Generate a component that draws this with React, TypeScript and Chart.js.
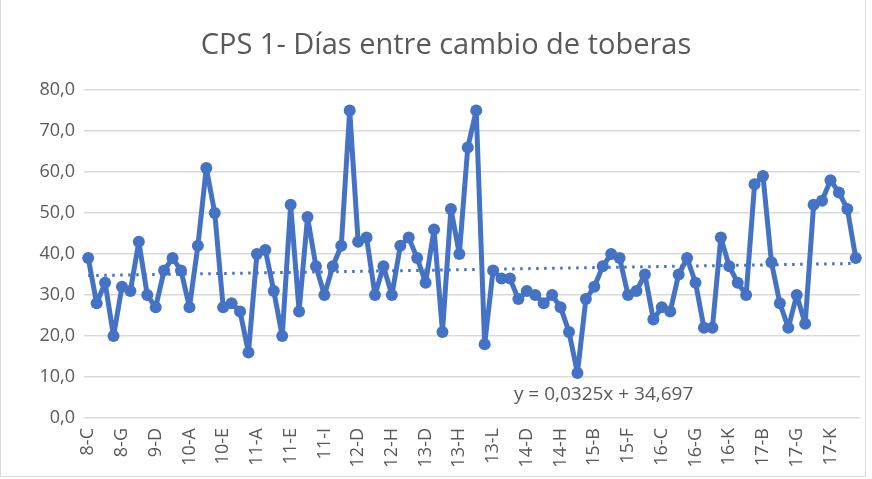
import React, { useEffect, useRef } from "react";
import { Chart, registerables } from "chart.js";

Chart.register(...registerables);

const chartTitle = "CPS 1- Días entre cambio de toberas";

const categories = [
  "8-C", "8-D", "8-E", "8-F", "8-G",
  "9-A", "9-B", "9-C", "9-D", "9-E", "9-F", "9-G",
  "10-A", "10-B", "10-C", "10-D", "10-E", "10-F", "10-G", "10-H",
  "11-A", "11-B", "11-C", "11-D", "11-E", "11-F", "11-G", "11-H", "11-I",
  "12-A", "12-B", "12-C", "12-D", "12-E", "12-F", "12-G", "12-H",
  "13-A", "13-B", "13-C", "13-D", "13-E", "13-F", "13-G", "13-H", "13-I", "13-J", "13-K", "13-L",
  "14-A", "14-B", "14-C", "14-D", "14-E", "14-F", "14-G", "14-H", "14-I", "14-J",
  "15-A", "15-B", "15-C", "15-D", "15-E", "15-F", "15-G",
  "16-A", "16-B", "16-C", "16-D", "16-E", "16-F", "16-G", "16-H", "16-I", "16-J", "16-K", "16-L", "16-M",
  "17-A", "17-B", "17-C", "17-D", "17-E", "17-G", "17-H", "17-I", "17-J", "17-K", "17-L", "17-M", "17-N",
];

const diasEntreCambio = [
  39, 28, 33, 20, 32, 31, 43, 30, 27, 36, 39, 36,
  27, 42, 61, 50, 27, 28, 26, 16,
  40, 41, 31, 20, 52, 26, 49, 37, 30,
  37, 42, 75, 43, 44, 30, 37, 30,
  42, 44, 39, 33, 46, 21, 51, 40, 66, 75, 18, 36,
  34, 34, 29, 31, 30, 28, 30, 27, 21, 11,
  29, 32, 37, 40, 39, 30, 31,
  35, 24, 27, 26, 35, 39, 33, 22, 22, 44, 37, 33, 30,
  57, 59, 38, 28, 22, 30, 23, 52, 53, 58, 55, 51, 39,
];

// Linear trendline endpoints (y = 0,0325x + 34,697 at first and last category)
const trendEnds = [34.73, 37.69];
const trendLabel = "y = 0,0325x + 34,697";

const yMin = 0;
const yMax = 80;
const yStep = 10;

const BLUE = "#4472C4";
const TEXT = "#595959";
const GRID = "#d9d9d9";
const FONT = "'Open Sans', 'Noto Sans', sans-serif";

export default function App() {
  const ref = useRef<HTMLCanvasElement | null>(null);

  useEffect(() => {
    if (!ref.current) return;
    const last = categories.length - 1;
    const trendData = categories.map((_, i) =>
      i === 0 ? trendEnds[0] : i === last ? trendEnds[1] : null
    );

    const overlay = {
      id: "overlay",
      afterDatasetsDraw(chart: any) {
        const { ctx, scales } = chart;
        ctx.save();
        ctx.fillStyle = TEXT;
        ctx.textAlign = "center";
        ctx.textBaseline = "middle";
        ctx.font = `29px ${FONT}`;
        ctx.fillText(chartTitle, 446, 46);
        ctx.font = `19px ${FONT}`;
        const x = scales.x.getPixelForValue(61.1);
        const y = scales.y.getPixelForValue(5.8);
        ctx.fillText(trendLabel, x, y);
        ctx.restore();
      },
    };

    const chart = new Chart(ref.current, {
      type: "line",
      data: {
        labels: categories,
        datasets: [
          {
            label: "Tendencia",
            data: trendData,
            spanGaps: true,
            borderColor: BLUE,
            borderWidth: 3,
            borderDash: [2.5, 5.5],
            pointRadius: 0,
            fill: false,
            order: 2,
          },
          {
            label: "Días",
            data: diasEntreCambio,
            borderColor: BLUE,
            borderWidth: 5,
            borderJoinStyle: "round",
            borderCapStyle: "round",
            backgroundColor: BLUE,
            pointBackgroundColor: BLUE,
            pointBorderWidth: 0,
            pointRadius: 6,
            tension: 0,
            fill: false,
            order: 1,
          },
        ],
      },
      options: {
        animation: false,
        responsive: false,
        maintainAspectRatio: false,
        layout: { padding: { top: 90, left: 0, right: 12, bottom: 0 } },
        plugins: {
          legend: { display: false },
          title: { display: false },
          tooltip: { enabled: false },
        },
        scales: {
          x: {
            offset: true,
            grid: { display: false, drawTicks: false },
            border: { display: false },
            ticks: {
              autoSkip: false,
              maxRotation: 90,
              minRotation: 90,
              padding: 10,
              color: TEXT,
              font: { family: FONT, size: 18 },
              callback: (_v: any, i: number) => (i % 4 === 0 ? categories[i] : ""),
            },
            afterFit: (s: any) => {
              s.height = 61;
              s.paddingLeft = 0;
              s.paddingRight = 0;
            },
          },
          y: {
            min: yMin,
            max: yMax,
            grid: { color: GRID, lineWidth: 1.5, drawTicks: false },
            border: { display: false },
            ticks: {
              stepSize: yStep,
              padding: 9,
              color: TEXT,
              font: { family: FONT, size: 18 },
              callback: (v: any) => Number(v).toFixed(1).replace(".", ","),
            },
            afterFit: (s: any) => {
              s.width = 84;
            },
          },
        },
      },
      plugins: [overlay],
    });
    return () => chart.destroy();
  }, []);

  return (
    <div
      style={{
        position: "fixed",
        left: 0,
        top: 0,
        width: 872,
        height: 479,
        background: "#fff",
      }}
    >
      <canvas ref={ref} width={872} height={479} style={{ display: "block" }} />
      <div
        style={{
          position: "absolute",
          left: 0,
          top: 0,
          width: 866,
          height: 477,
          boxSizing: "border-box",
          borderLeft: "1px solid #d9d9d9",
          borderRight: "1px solid #d9d9d9",
          borderBottom: "1px solid #d9d9d9",
          pointerEvents: "none",
        }}
      />
    </div>
  );
}
